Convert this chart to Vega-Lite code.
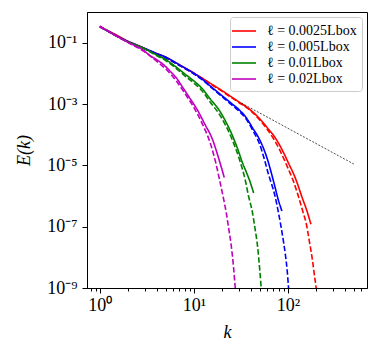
{
  "$schema": "https://vega.github.io/schema/vega-lite/v6.json",
  "width": 280,
  "height": 276,
  "autosize": "none",
  "padding": {"left": 87, "top": 12, "right": 12, "bottom": 67},
  "background": "white",
  "config": {
    "view": {"stroke": "black", "strokeWidth": 1},
    "font": "Liberation Serif",
    "axis": {"grid": false, "domainColor": "black", "tickColor": "black", "labelColor": "black", "titleColor": "black", "labelFont": "Liberation Serif", "titleFont": "Liberation Serif", "labelFontSize": 18, "titleFontSize": 18, "titleFontStyle": "italic", "titleFontWeight": "normal", "labelOverlap": false, "labelBound": false}
  },
  "layer": [
    {
      "data": {"values": [
        {"ell":"0.0025","style":"solid","k":1,"E":0.331},{"ell":"0.0025","style":"solid","k":1.5,"E":0.178},{"ell":"0.0025","style":"solid","k":2,"E":0.110},{"ell":"0.0025","style":"solid","k":2.5,"E":0.0832},{"ell":"0.0025","style":"solid","k":3,"E":0.0646},{"ell":"0.0025","style":"solid","k":3.5,"E":0.0525},{"ell":"0.0025","style":"solid","k":4,"E":0.0447},{"ell":"0.0025","style":"solid","k":5,"E":0.0339},{"ell":"0.0025","style":"solid","k":6,"E":0.0251},{"ell":"0.0025","style":"solid","k":7,"E":0.0191},{"ell":"0.0025","style":"solid","k":8,"E":0.0151},{"ell":"0.0025","style":"solid","k":10,"E":0.0102},{"ell":"0.0025","style":"solid","k":12,"E":0.00724},{"ell":"0.0025","style":"solid","k":15,"E":0.00468},{"ell":"0.0025","style":"solid","k":20,"E":0.00269},{"ell":"0.0025","style":"solid","k":25,"E":0.0017},{"ell":"0.0025","style":"solid","k":30,"E":0.00117},{"ell":"0.0025","style":"solid","k":40,"E":0.000631},{"ell":"0.0025","style":"solid","k":50,"E":0.000331},{"ell":"0.0025","style":"solid","k":60,"E":0.00017},{"ell":"0.0025","style":"solid","k":70,"E":0.0000955},{"ell":"0.0025","style":"solid","k":80,"E":0.0000501},{"ell":"0.0025","style":"solid","k":90,"E":0.0000251},{"ell":"0.0025","style":"solid","k":100,"E":0.0000126},{"ell":"0.0025","style":"solid","k":120,"E":0.00000372},{"ell":"0.0025","style":"solid","k":140,"E":0.000000955},{"ell":"0.0025","style":"solid","k":160,"E":0.000000302},{"ell":"0.0025","style":"solid","k":175,"E":0.00000012},
        {"ell":"0.0025","style":"dashed","k":1,"E":0.34},{"ell":"0.0025","style":"dashed","k":2,"E":0.105},{"ell":"0.0025","style":"dashed","k":3,"E":0.063},{"ell":"0.0025","style":"dashed","k":4,"E":0.043},{"ell":"0.0025","style":"dashed","k":5,"E":0.032},{"ell":"0.0025","style":"dashed","k":7,"E":0.0182},{"ell":"0.0025","style":"dashed","k":10,"E":0.0098},{"ell":"0.0025","style":"dashed","k":15,"E":0.00447},{"ell":"0.0025","style":"dashed","k":20,"E":0.00257},{"ell":"0.0025","style":"dashed","k":25,"E":0.00162},{"ell":"0.0025","style":"dashed","k":30,"E":0.00112},{"ell":"0.0025","style":"dashed","k":40,"E":0.000603},{"ell":"0.0025","style":"dashed","k":50,"E":0.000302},{"ell":"0.0025","style":"dashed","k":60,"E":0.000151},{"ell":"0.0025","style":"dashed","k":70,"E":0.0000741},{"ell":"0.0025","style":"dashed","k":80,"E":0.0000355},{"ell":"0.0025","style":"dashed","k":90,"E":0.0000166},{"ell":"0.0025","style":"dashed","k":100,"E":0.00000794},{"ell":"0.0025","style":"dashed","k":114,"E":0.00000302},{"ell":"0.0025","style":"dashed","k":130,"E":0.000000891},{"ell":"0.0025","style":"dashed","k":145,"E":0.000000282},{"ell":"0.0025","style":"dashed","k":155,"E":0.000000138},{"ell":"0.0025","style":"dashed","k":170,"E":0.0000000282},{"ell":"0.0025","style":"dashed","k":181,"E":0.00000000871},{"ell":"0.0025","style":"dashed","k":190,"E":0.00000000282},{"ell":"0.0025","style":"dashed","k":200,"E":0.000000000891},{"ell":"0.0025","style":"dashed","k":210,"E":0.000000000251},
        {"ell":"0.005","style":"solid","k":1,"E":0.331},{"ell":"0.005","style":"solid","k":2,"E":0.110},{"ell":"0.005","style":"solid","k":3,"E":0.0646},{"ell":"0.005","style":"solid","k":4,"E":0.0447},{"ell":"0.005","style":"solid","k":5,"E":0.0339},{"ell":"0.005","style":"solid","k":6,"E":0.0251},{"ell":"0.005","style":"solid","k":7,"E":0.0191},{"ell":"0.005","style":"solid","k":8,"E":0.0151},{"ell":"0.005","style":"solid","k":10,"E":0.01},{"ell":"0.005","style":"solid","k":12,"E":0.00676},{"ell":"0.005","style":"solid","k":15,"E":0.0038},{"ell":"0.005","style":"solid","k":19,"E":0.00209},{"ell":"0.005","style":"solid","k":25,"E":0.00105},{"ell":"0.005","style":"solid","k":30,"E":0.000661},{"ell":"0.005","style":"solid","k":36,"E":0.000355},{"ell":"0.005","style":"solid","k":42,"E":0.000166},{"ell":"0.005","style":"solid","k":50,"E":0.0000676},{"ell":"0.005","style":"solid","k":57,"E":0.0000263},{"ell":"0.005","style":"solid","k":62,"E":0.000012},{"ell":"0.005","style":"solid","k":66,"E":0.00000603},{"ell":"0.005","style":"solid","k":72,"E":0.00000219},{"ell":"0.005","style":"solid","k":78,"E":0.000000832},{"ell":"0.005","style":"solid","k":86,"E":0.000000324},
        {"ell":"0.005","style":"dashed","k":1,"E":0.34},{"ell":"0.005","style":"dashed","k":2,"E":0.105},{"ell":"0.005","style":"dashed","k":3,"E":0.063},{"ell":"0.005","style":"dashed","k":4,"E":0.043},{"ell":"0.005","style":"dashed","k":5,"E":0.032},{"ell":"0.005","style":"dashed","k":7,"E":0.0182},{"ell":"0.005","style":"dashed","k":10,"E":0.0095},{"ell":"0.005","style":"dashed","k":12,"E":0.00646},{"ell":"0.005","style":"dashed","k":15,"E":0.00363},{"ell":"0.005","style":"dashed","k":19,"E":0.00195},{"ell":"0.005","style":"dashed","k":25,"E":0.000955},{"ell":"0.005","style":"dashed","k":30,"E":0.000589},{"ell":"0.005","style":"dashed","k":36,"E":0.000316},{"ell":"0.005","style":"dashed","k":42,"E":0.000141},{"ell":"0.005","style":"dashed","k":50,"E":0.0000479},{"ell":"0.005","style":"dashed","k":56,"E":0.0000158},{"ell":"0.005","style":"dashed","k":62,"E":0.00000501},{"ell":"0.005","style":"dashed","k":67,"E":0.0000024},{"ell":"0.005","style":"dashed","k":72,"E":0.00000112},{"ell":"0.005","style":"dashed","k":78,"E":0.000000355},{"ell":"0.005","style":"dashed","k":84,"E":0.000000105},{"ell":"0.005","style":"dashed","k":89,"E":0.0000000355},{"ell":"0.005","style":"dashed","k":94,"E":0.0000000112},{"ell":"0.005","style":"dashed","k":98,"E":0.00000000355},{"ell":"0.005","style":"dashed","k":101,"E":0.0000000011},{"ell":"0.005","style":"dashed","k":104,"E":0.000000000398},
        {"ell":"0.01","style":"solid","k":1,"E":0.331},{"ell":"0.01","style":"solid","k":2,"E":0.107},{"ell":"0.01","style":"solid","k":3,"E":0.0631},{"ell":"0.01","style":"solid","k":4,"E":0.0398},{"ell":"0.01","style":"solid","k":5,"E":0.0282},{"ell":"0.01","style":"solid","k":6,"E":0.0191},{"ell":"0.01","style":"solid","k":7,"E":0.0132},{"ell":"0.01","style":"solid","k":8,"E":0.00955},{"ell":"0.01","style":"solid","k":10,"E":0.00562},{"ell":"0.01","style":"solid","k":12,"E":0.00339},{"ell":"0.01","style":"solid","k":14.6,"E":0.00158},{"ell":"0.01","style":"solid","k":18.7,"E":0.000603},{"ell":"0.01","style":"solid","k":22,"E":0.000251},{"ell":"0.01","style":"solid","k":25.7,"E":0.0000912},{"ell":"0.01","style":"solid","k":29,"E":0.0000355},{"ell":"0.01","style":"solid","k":32.8,"E":0.000012},{"ell":"0.01","style":"solid","k":36,"E":0.00000603},{"ell":"0.01","style":"solid","k":39.6,"E":0.00000282},{"ell":"0.01","style":"solid","k":43,"E":0.00000126},
        {"ell":"0.01","style":"dashed","k":1,"E":0.34},{"ell":"0.01","style":"dashed","k":2,"E":0.105},{"ell":"0.01","style":"dashed","k":3,"E":0.0617},{"ell":"0.01","style":"dashed","k":4,"E":0.038},{"ell":"0.01","style":"dashed","k":5,"E":0.0263},{"ell":"0.01","style":"dashed","k":6,"E":0.0174},{"ell":"0.01","style":"dashed","k":8,"E":0.00832},{"ell":"0.01","style":"dashed","k":10,"E":0.00479},{"ell":"0.01","style":"dashed","k":12,"E":0.00282},{"ell":"0.01","style":"dashed","k":15,"E":0.00112},{"ell":"0.01","style":"dashed","k":19,"E":0.000417},{"ell":"0.01","style":"dashed","k":22,"E":0.000186},{"ell":"0.01","style":"dashed","k":25,"E":0.0000794},{"ell":"0.01","style":"dashed","k":30,"E":0.0000178},{"ell":"0.01","style":"dashed","k":35,"E":0.00000339},{"ell":"0.01","style":"dashed","k":38,"E":0.000001},{"ell":"0.01","style":"dashed","k":41.8,"E":0.000000295},{"ell":"0.01","style":"dashed","k":44.5,"E":0.0000000891},{"ell":"0.01","style":"dashed","k":47.3,"E":0.000000024},{"ell":"0.01","style":"dashed","k":50,"E":0.00000000398},{"ell":"0.01","style":"dashed","k":51.7,"E":0.0000000011},{"ell":"0.01","style":"dashed","k":53,"E":0.000000000398},
        {"ell":"0.02","style":"solid","k":1,"E":0.331},{"ell":"0.02","style":"solid","k":2,"E":0.102},{"ell":"0.02","style":"solid","k":3,"E":0.0525},{"ell":"0.02","style":"solid","k":3.4,"E":0.038},{"ell":"0.02","style":"solid","k":4,"E":0.0282},{"ell":"0.02","style":"solid","k":5,"E":0.0166},{"ell":"0.02","style":"solid","k":5.5,"E":0.0123},{"ell":"0.02","style":"solid","k":6.5,"E":0.00708},{"ell":"0.02","style":"solid","k":7.6,"E":0.00347},{"ell":"0.02","style":"solid","k":9,"E":0.00158},{"ell":"0.02","style":"solid","k":10.9,"E":0.000631},{"ell":"0.02","style":"solid","k":13,"E":0.000224},{"ell":"0.02","style":"solid","k":15.8,"E":0.0000676},{"ell":"0.02","style":"solid","k":18,"E":0.00002},{"ell":"0.02","style":"solid","k":21,"E":0.00000398},
        {"ell":"0.02","style":"dashed","k":1,"E":0.347},{"ell":"0.02","style":"dashed","k":2,"E":0.1},{"ell":"0.02","style":"dashed","k":3,"E":0.0501},{"ell":"0.02","style":"dashed","k":4,"E":0.0251},{"ell":"0.02","style":"dashed","k":5,"E":0.0141},{"ell":"0.02","style":"dashed","k":6.5,"E":0.00562},{"ell":"0.02","style":"dashed","k":8,"E":0.00224},{"ell":"0.02","style":"dashed","k":10,"E":0.000759},{"ell":"0.02","style":"dashed","k":12.5,"E":0.0002},{"ell":"0.02","style":"dashed","k":15,"E":0.0000501},{"ell":"0.02","style":"dashed","k":17,"E":0.0000126},{"ell":"0.02","style":"dashed","k":18.7,"E":0.00000339},{"ell":"0.02","style":"dashed","k":20.5,"E":0.000000891},{"ell":"0.02","style":"dashed","k":22,"E":0.000000295},{"ell":"0.02","style":"dashed","k":23.5,"E":0.0000000794},{"ell":"0.02","style":"dashed","k":24.9,"E":0.000000024},{"ell":"0.02","style":"dashed","k":26.3,"E":0.00000000501},{"ell":"0.02","style":"dashed","k":27.4,"E":0.0000000011},{"ell":"0.02","style":"dashed","k":28.3,"E":0.000000000316}
      ]},
      "mark": {"type": "line", "clip": true, "strokeWidth": 1.6, "interpolate": "monotone"},
      "encoding": {
        "x": {"field": "k", "type": "quantitative", "scale": {"type": "log", "domain": [0.73, 690], "nice": false},
              "axis": {"title": "k", "values": [0.8,0.9,1,2,3,4,5,6,7,8,9,10,20,30,40,50,60,70,80,90,100,200,300,400,500,600],
                       "labelExpr": "datum.value == 1 ? '10⁰' : datum.value == 10 ? '10¹' : datum.value == 100 ? '10²' : ''",
                       "tickSize": {"condition": {"test": "datum.value == 1 || datum.value == 10 || datum.value == 100", "value": 5}, "value": 3},
                       "labelPadding": 3, "titlePadding": 9}},
        "y": {"field": "E", "type": "quantitative", "scale": {"type": "log", "domain": [1e-9, 1], "nice": false},
              "axis": {"title": "E(k)", "values": [1e-9, 1e-7, 1e-5, 1e-3, 1e-1],
                       "labelExpr": "datum.value < 1e-8 ? '10⁻⁹' : datum.value < 1e-6 ? '10⁻⁷' : datum.value < 1e-4 ? '10⁻⁵' : datum.value < 1e-2 ? '10⁻³' : '10⁻¹'",
                       "tickSize": 5, "labelPadding": 5, "titlePadding": 13}},
        "color": {"field": "ell", "type": "nominal",
                  "scale": {"domain": ["0.0025", "0.005", "0.01", "0.02"], "range": ["#ff0000", "#0000ff", "#008000", "#bf00bf"]},
                  "legend": {"title": null, "orient": "top-right", "offset": 5, "padding": 5, "fillColor": "white", "strokeColor": "#cccccc", "cornerRadius": 3,
                             "symbolType": "M-1.5,0H1.5", "symbolStrokeWidth": 1.6, "symbolSize": 256, "labelFont": "Liberation Serif", "labelFontSize": 14, "labelColor": "black",
                             "rowPadding": 0, "labelOffset": 14, "labelExpr": "'ℓ = ' + datum.label + 'Lbox'"}},
        "strokeDash": {"field": "style", "type": "nominal", "scale": {"domain": ["solid", "dashed"], "range": [[1, 0], [5.5, 2.4]]}, "legend": null}
      }
    },
    {
      "data": {"values": [{"k": 32, "E": 0.00107}, {"k": 500, "E": 0.000011}]},
      "mark": {"type": "line", "color": "black", "strokeWidth": 0.7, "strokeDash": [2, 1.5]},
      "encoding": {
        "x": {"field": "k", "type": "quantitative"},
        "y": {"field": "E", "type": "quantitative"}
      }
    }
  ]
}
